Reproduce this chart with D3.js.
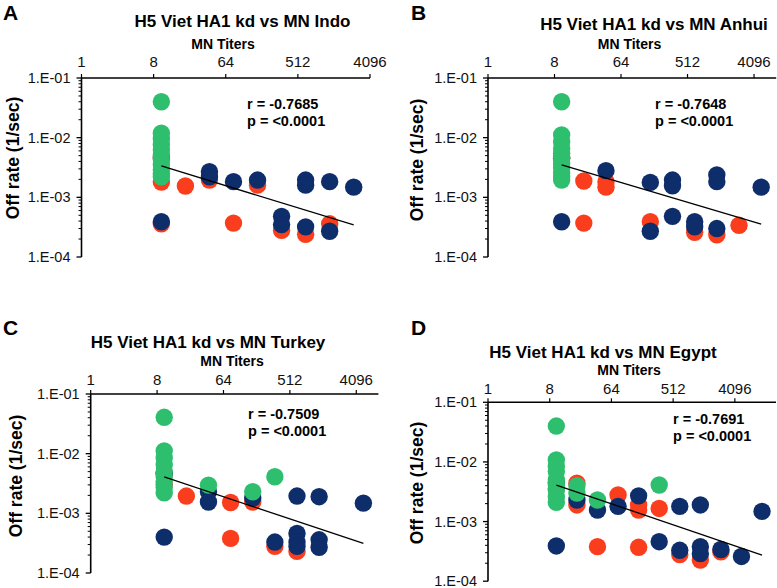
<!DOCTYPE html>
<html>
<head>
<meta charset="utf-8">
<script src="https://cdn.jsdelivr.net/npm/d3@7"></script>
<style>
  html, body { margin: 0; padding: 0; background: #fff; }
  svg { display: block; font-family: "Liberation Sans", Arial, Helvetica, sans-serif; }
</style>
</head>
<body>
<svg id="chart" width="777" height="588"></svg>
<script>
// ---------------- DATA ----------------
const xTickValues = [1, 8, 64, 512, 4096];
const yTickValues = [1e-1, 1e-2, 1e-3, 1e-4];
const yTickLabels = ["1.E-01", "1.E-02", "1.E-03", "1.E-04"];
const panelLetters = ["A", "B", "C", "D"];
const panelTitles = [
  "H5 Viet HA1 kd vs MN Indo",
  "H5 Viet HA1 kd vs MN Anhui",
  "H5 Viet HA1 kd vs MN Turkey",
  "H5 Viet HA1 kd vs MN Egypt"
];
const rValues = ["-0.7685", "-0.7648", "-0.7509", "-0.7691"];
const pValues = ["<0.0001", "<0.0001", "<0.0001", "<0.0001"];
const xDomainMax = [4096, 8192, 8192, 16384];

// [MN titer, off rate]
const indoGreen = [[10,0.040],[10,0.0119],[10,0.0095],[10,0.0076],[10,0.0062],[10,0.0051],[10,0.0043],[10,0.0035],[10,0.0029],[10,0.0025],[10,0.0022]];
const indoRed = [[10,0.0045],[10,0.0018],[10,0.00036],[20,0.00155],[40,0.00195],[80,0.00037],[160,0.0016],[320,0.00028],[640,0.00024],[1280,0.00036]];
const indoNavy = [[10,0.0048],[10,0.00039],[40,0.0027],[40,0.0022],[80,0.00183],[160,0.00195],[320,0.00048],[320,0.00035],[640,0.00195],[640,0.0016],[640,0.00032],[1280,0.00183],[1280,0.00027],[2560,0.00148]];
const indoFit = [[10,0.00336],[2560,0.000345]];

const anhuiGreen = [[10,0.040],[10,0.0111],[10,0.0085],[10,0.0066],[10,0.0055],[10,0.0045],[10,0.0037],[10,0.0031],[10,0.0026],[10,0.0022],[10,0.00195]];
const anhuiRed = [[10,0.0048],[20,0.00188],[20,0.00037],[40,0.00183],[40,0.00148],[160,0.00039],[640,0.00026],[1280,0.000235],[2560,0.00034]];
const anhuiNavy = [[10,0.0045],[10,0.00039],[40,0.0028],[160,0.00178],[160,0.00027],[320,0.00195],[320,0.00156],[320,0.00048],[640,0.00039],[640,0.00032],[1280,0.00237],[1280,0.00183],[1280,0.0003],[5120,0.00148]];
const anhuiFit = [[10,0.0035],[5120,0.000355]];

const turkeyGreen = [[10,0.0407],[10,0.0111],[10,0.0085],[10,0.0065],[10,0.005],[10,0.0041],[10,0.0034],[10,0.0027],[10,0.0022],[40,0.00297],[160,0.0023],[320,0.0041]];
const turkeyRed = [[10,0.0045],[10,0.003],[20,0.00195],[80,0.00152],[80,0.00038],[160,0.00155],[320,0.00028],[640,0.00023]];
const turkeyNavy = [[10,0.0048],[10,0.0004],[40,0.0023],[40,0.00155],[160,0.0018],[320,0.00033],[640,0.00195],[640,0.00046],[640,0.00033],[640,0.00028],[1280,0.0019],[1280,0.00036],[1280,0.00027],[5120,0.00148]];
const turkeyFit = [[10,0.00407],[5120,0.000313]];

const egyptGreen = [[10,0.040],[10,0.0108],[10,0.0085],[10,0.0069],[10,0.005],[10,0.0041],[10,0.0034],[10,0.0026],[10,0.0021],[20,0.004],[20,0.003],[40,0.0023],[320,0.0041]];
const egyptRed = [[10,0.0035],[20,0.0044],[20,0.0019],[40,0.00038],[80,0.00279],[160,0.0019],[160,0.00156],[160,0.00037],[320,0.00166],[640,0.00028],[1280,0.000226],[2560,0.00031]];
const egyptNavy = [[10,0.0045],[10,0.00039],[20,0.0023],[40,0.00156],[80,0.0018],[160,0.0027],[320,0.00046],[640,0.0018],[640,0.00033],[1280,0.0019],[1280,0.00038],[1280,0.00029],[2560,0.00034],[5120,0.00026],[10240,0.00148]];
const egyptFit = [[10,0.0041],[10240,0.000274]];

// ---------------- LAYOUT ----------------
const COLORS = { green: "#2fbf6e", red: "#fa3e1c", navy: "#0f2d6b" };
const layouts = [
  { xRange:[81.5,370], yRange:[257,78], letter:[3,20], title:[242.5,27], mn:[223,49], tickY:67, yTitle:[13,158], rp:[247,108.5] },
  { xRange:[488,776.2], yRange:[257,78], letter:[411,20], title:[654,30], mn:[629.5,49], tickY:67, yTitle:[417,160], rp:[655,108.5] },
  { xRange:[90.7,378.4], yRange:[573,394], letter:[3,335], title:[208,347.5], mn:[232,366], tickY:385, yTitle:[16,476], rp:[248,418.5] },
  { xRange:[488,776], yRange:[581.2,402.3], letter:[411,335], title:[603,357.5], mn:[629,375], tickY:393.5, yTitle:[417,483], rp:[673,423.5] }
];
const series = [
  { green: indoGreen, red: indoRed, navy: indoNavy, fit: indoFit },
  { green: anhuiGreen, red: anhuiRed, navy: anhuiNavy, fit: anhuiFit },
  { green: turkeyGreen, red: turkeyRed, navy: turkeyNavy, fit: turkeyFit },
  { green: egyptGreen, red: egyptRed, navy: egyptNavy, fit: egyptFit }
];

const svg = d3.select("#chart");
const defs = svg.append("defs");
defs.append("filter").attr("id", "soft").attr("x", "-20%").attr("y", "-20%").attr("width", "140%").attr("height", "140%")
  .append("feGaussianBlur").attr("stdDeviation", 0.75);

layouts.forEach((L, i) => {
  const S = series[i];
  const g = svg.append("g");
  const x = d3.scaleLog().base(2).domain([1, xDomainMax[i]]).range(L.xRange);
  const y = d3.scaleLog().domain([1e-4, 1e-1]).range(L.yRange);

  // panel letter
  g.append("text").attr("x", L.letter[0]).attr("y", L.letter[1])
    .attr("font-size", 21).attr("font-weight", "bold").text(panelLetters[i]);
  // title
  g.append("text").attr("x", L.title[0]).attr("y", L.title[1]).attr("text-anchor", "middle")
    .attr("font-size", 17).attr("font-weight", "bold").text(panelTitles[i]);
  // x axis title
  g.append("text").attr("x", L.mn[0]).attr("y", L.mn[1]).attr("text-anchor", "middle")
    .attr("font-size", 14).attr("font-weight", "bold").text("MN Titers");
  // y axis title
  g.append("text").attr("transform", `translate(${L.yTitle[0]},${L.yTitle[1]}) rotate(-90)`)
    .attr("text-anchor", "middle").attr("dominant-baseline", "central")
    .attr("font-size", 17.5).attr("font-weight", "bold").text("Off rate (1/sec)");

  // dots: red, navy, green
  const dots = g.append("g").attr("filter", "url(#soft)");
  ["red", "navy", "green"].forEach(key => {
    dots.selectAll(null).data(S[key]).enter().append("circle")
      .attr("cx", d => x(d[0])).attr("cy", d => y(d[1]))
      .attr("r", 8.7).attr("fill", COLORS[key]);
  });

  // fit line
  g.append("path").datum(S.fit)
    .attr("d", d3.line().x(d => x(d[0])).y(d => y(d[1])))
    .attr("fill", "none").attr("stroke", "#000").attr("stroke-width", 1.3);

  // x axis (top)
  const xAxis = g.append("g").attr("transform", `translate(0,${L.yRange[1]})`);
  xAxis.append("line").attr("x1", L.xRange[0]).attr("x2", L.xRange[1])
    .attr("stroke", "#000").attr("stroke-width", 1.6);
  xAxis.selectAll("line.tk").data(xTickValues.filter(v => v <= xDomainMax[i])).enter().append("line")
    .attr("class", "tk").attr("x1", d => x(d)).attr("x2", d => x(d)).attr("y1", 0).attr("y2", -4)
    .attr("stroke", "#000").attr("stroke-width", 1.2);
  g.selectAll("text.xt").data(xTickValues).enter().append("text")
    .attr("class", "xt").attr("x", d => x(d)).attr("y", L.tickY).attr("text-anchor", "middle")
    .attr("font-size", 15).attr("fill", "#111").text(d => d);

  // y axis (left)
  const yAxis = g.append("g").attr("transform", `translate(${L.xRange[0]},0)`);
  yAxis.append("line").attr("y1", L.yRange[0]).attr("y2", L.yRange[1])
    .attr("stroke", "#000").attr("stroke-width", 1.6);
  const minor = [];
  yTickValues.slice(1).forEach(dec => { for (let k = 2; k <= 9; k++) minor.push(dec * k); });
  yAxis.selectAll("line.mn").data(minor).enter().append("line")
    .attr("y1", d => y(d)).attr("y2", d => y(d)).attr("x1", 0).attr("x2", -3)
    .attr("stroke", "#000").attr("stroke-width", 1);
  yAxis.selectAll("line.mj").data(yTickValues).enter().append("line")
    .attr("y1", d => y(d)).attr("y2", d => y(d)).attr("x1", 0).attr("x2", -5)
    .attr("stroke", "#000").attr("stroke-width", 1.3);
  yAxis.selectAll("text").data(yTickValues).enter().append("text")
    .attr("x", -11).attr("y", d => y(d)).attr("dy", "0.35em").attr("text-anchor", "end")
    .attr("font-size", 14.5).attr("fill", "#111").text((d, j) => yTickLabels[j]);

  // r / p
  g.append("text").attr("x", L.rp[0]).attr("y", L.rp[1]).attr("font-size", 14.5).attr("font-weight", "bold")
    .text("r = " + rValues[i]);
  g.append("text").attr("x", L.rp[0]).attr("y", L.rp[1] + 17.5).attr("font-size", 14.5).attr("font-weight", "bold")
    .text("p = " + pValues[i]);
});
</script>
</body>
</html>
